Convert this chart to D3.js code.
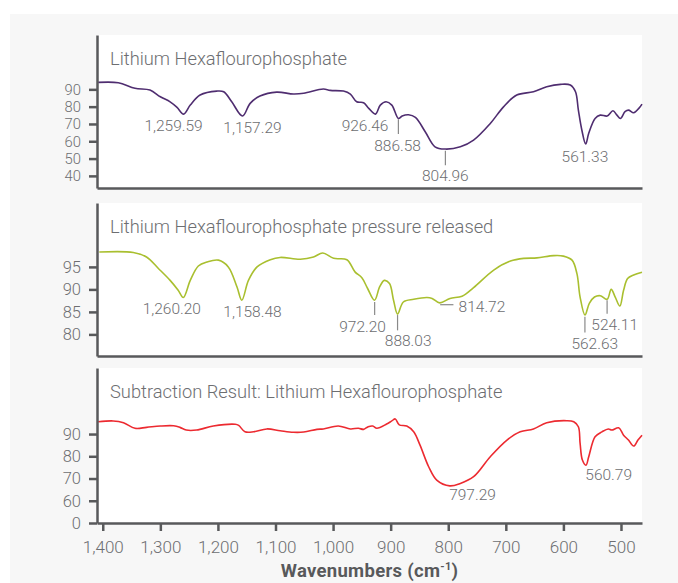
<!DOCTYPE html>
<html>
<head>
<meta charset="utf-8">
<script src="https://cdn.jsdelivr.net/npm/d3@7"></script>
<style>
	body { margin: 0; background: #fff; }
	text { font-family: Roboto, "Helvetica Neue", Arial, sans-serif; }
</style>
</head>
<body>
<svg id="chart" width="678" height="583"></svg>
<script>
// spectra, [wavenumber, value]
const seriesLiPF6 = [
	[1408, 94.0], [1373, 93.8], [1344, 90.6], [1318, 89.6], [1300, 85.7], [1283, 82.8], [1271, 79.6],
	[1259.6, 75.7], [1248, 80.9], [1231, 86.7], [1202, 89.0], [1190, 88.6], [1176, 82.8], [1157.3, 74.6],
	[1144, 81.9], [1127, 86.1], [1098, 88.4], [1069, 87.3], [1051, 87.7], [1017, 90.2], [1005, 89.4],
	[982, 89.0], [970, 87.3], [959, 82.8], [947, 82.3], [938, 79.0], [926.5, 75.7], [918, 80.9], [908, 82.8],
	[898, 80.9], [886.6, 73.2], [880, 74.6], [869, 75.3], [857, 73.8], [840, 65.5], [823, 56.8], [805, 55.5],
	[779, 56.8], [756, 60.7], [727, 70.3], [704, 79.9], [681, 86.7], [652, 88.6], [629, 91.5], [605, 92.9],
	[588, 92.5], [579, 88.6], [574, 78.0], [568, 66.5], [561.3, 58.4], [556, 64.6], [545, 73.2], [536, 75.1],
	[524, 74.6], [514, 77.6], [507, 75.1], [501, 73.2], [493, 77.1], [487, 78.0], [478, 76.5], [469, 79.0],
	[463.5, 81.5]
];

const seriesReleased = [
	[1406, 98.3], [1347, 98.2], [1324, 97.2], [1303, 94.6], [1283, 92.0], [1269, 89.8], [1260.2, 88.2],
	[1248, 92.0], [1234, 95.2], [1219, 96.1], [1199, 96.5], [1182, 95.0], [1167, 90.6], [1158.5, 87.6],
	[1147, 92.0], [1132, 95.0], [1109, 96.6], [1092, 97.1], [1057, 96.7], [1034, 97.2], [1018, 98.1],
	[999, 96.9], [976, 96.6], [962, 93.9], [950, 92.6], [940, 90.2], [928, 87.6], [919, 90.6], [911, 92.0],
	[902, 91.3], [895, 87.6], [888, 84.5], [878, 87.2], [860, 87.8], [837, 88.2], [828, 88.0], [814.7, 87.0],
	[797, 88.0], [776, 88.5], [756, 90.4], [721, 94.3], [692, 96.3], [669, 96.9], [646, 97.0], [617, 97.5],
	[600, 97.4], [585, 96.5], [576.5, 93.5], [571, 88.3], [562.6, 84.3], [555, 86.9], [546, 88.3], [536, 88.6],
	[524.1, 87.8], [517, 90.0], [510, 88.3], [502, 86.3], [495.5, 89.8], [488.5, 92.4], [478, 93.2],
	[463.5, 93.8]
];

const seriesSubtraction = [
	[1408, 95.5], [1382, 95.9], [1364, 95.1], [1344, 92.6], [1324, 93.0], [1300, 93.6], [1277, 93.7],
	[1266, 93.0], [1255, 91.8], [1237, 91.8], [1208, 93.6], [1170, 94.4], [1164, 93.9], [1153, 91.0],
	[1138, 91.0], [1115, 92.3], [1092, 91.5], [1069, 90.8], [1051, 90.9], [1028, 92.1], [1017, 92.3],
	[991, 93.6], [970, 92.3], [956, 92.6], [947, 92.1], [939, 93.3], [931, 93.6], [924, 92.6], [907, 94.5],
	[898, 95.9], [892, 96.8], [885, 94.1], [872, 93.6], [860, 91.0], [849, 85.0], [834, 75.3], [820, 69.3],
	[797.3, 66.7], [779, 67.8], [756, 70.8], [727, 79.8], [698, 87.3], [675, 91.0], [652, 92.3], [629, 95.1],
	[594, 96.0], [582, 95.5], [574, 93.3], [571, 85.8], [567, 78.3], [560.8, 76.0], [556, 79.8], [545, 88.8],
	[533, 91.0], [522, 92.3], [516, 91.8], [504, 92.8], [495.5, 89.5], [487, 87.3], [478, 84.6], [470.5, 87.3],
	[463.5, 89.5]
];

const titles = [
	"Lithium Hexaflourophosphate",
	"Lithium Hexaflourophosphate pressure released",
	"Subtraction Result: Lithium Hexaflourophosphate"
];

const xTicks = [1400, 1300, 1200, 1100, 1000, 900, 800, 700, 600, 500];

const yTicks1 = [40, 50, 60, 70, 80, 90];
const yTicks2 = [80, 85, 90, 95];
const yTicks3 = [50, 60, 70, 80, 90];
const yTickLabels3 = ["0", "60", "70", "80", "90"];

// peak labels: text, label anchor point (wn, value), optional leader line
const peaks1 = [
	{ text: "1,259.59", wn: 1277, v: 65.9 },
	{ text: "1,157.29", wn: 1140, v: 64.6 },
	{ text: "926.46", wn: 904, v: 65.9, anchor: "end" },
	{ text: "886.58", wn: 888, v: 54.5, line: [886.58, 72.7, 886.58, 64.2] },
	{ text: "804.96", wn: 805, v: 37.2, line: [804.96, 54.5, 804.96, 46.2] },
	{ text: "561.33", wn: 562.6, v: 48.2 }
];
const peaks2 = [
	{ text: "1,260.20", wn: 1280, v: 84.5 },
	{ text: "1,158.48", wn: 1140, v: 83.9 },
	{ text: "972.20", wn: 948.7, v: 80.6, line: [927.8, 87.2, 927.8, 84.3] },
	{ text: "888.03", wn: 869.6, v: 77.4, line: [888.03, 84.3, 888.03, 80.9] },
	{ text: "814.72", wn: 782, v: 85.0, anchor: "start", line: [814, 86.6, 791, 86.6] },
	{ text: "562.63", wn: 545.5, v: 76.8, line: [562.63, 83.9, 562.63, 80.4] },
	{ text: "524.11", wn: 511, v: 80.9, line: [524.11, 87.6, 524.11, 84.6] }
];
const peaks3 = [
	{ text: "797.29", wn: 798.4, v: 60.3, anchor: "start" },
	{ text: "560.79", wn: 562, v: 69.3, anchor: "start" }
];

// layout
const svg = d3.select("#chart");
const left = 97, right = 642;
const axisColor = "#58595b", labelColor = "#6d6e71";

const panels = [
	{ title: titles[0], data: seriesLiPF6, color: "#4f2d70", top: 35, bottom: 188,
		domain: [33, 121.4], ticks: yTicks1, peaks: peaks1, tickFont: 14.8 },
	{ title: titles[1], data: seriesReleased, color: "#a9bf2f", top: 203, bottom: 356,
		domain: [75.2, 109.2], ticks: yTicks2, peaks: peaks2, tickFont: 16.5 },
	{ title: titles[2], data: seriesSubtraction, color: "#ec2a30", top: 368, bottom: 523,
		domain: [50, 119.7], ticks: yTicks3, tickLabels: yTickLabels3, peaks: peaks3, tickFont: 16.5, xAxis: true }
];

svg.append("rect")
	.attr("x", 10).attr("y", 14)
	.attr("width", 668).attr("height", 569)
	.attr("fill", "#f7f7f7");

const x = d3.scaleLinear().domain([1410, 463.5]).range([left, right]);

panels.forEach(p => {
	const y = d3.scaleLinear().domain(p.domain).range([p.bottom, p.top]);
	const g = svg.append("g");

	g.append("rect")
		.attr("x", left).attr("y", p.top)
		.attr("width", right - left).attr("height", p.bottom - p.top)
		.attr("fill", "#fff");

	g.append("text")
		.attr("x", 110).attr("y", p.top + 29.5)
		.attr("fill", labelColor)
		.attr("font-size", 18.3)
		.attr("font-weight", 300)
		.text(p.title);

	// spectrum line
	g.append("path")
		.datum(p.data)
		.attr("fill", "none")
		.attr("stroke", p.color)
		.attr("stroke-width", 1.6)
		.attr("d", d3.line().x(d => x(d[0])).y(d => y(d[1])).curve(d3.curveCatmullRom.alpha(0.5)));

	// peak annotations
	p.peaks.forEach(pk => {
		if (pk.line)
			g.append("line")
				.attr("x1", x(pk.line[0])).attr("y1", y(pk.line[1]))
				.attr("x2", x(pk.line[2])).attr("y2", y(pk.line[3]))
				.attr("stroke", "#8a8a8a").attr("stroke-width", 1.2);
		g.append("text")
			.attr("x", x(pk.wn)).attr("y", y(pk.v))
			.attr("text-anchor", pk.anchor || "middle")
			.attr("fill", labelColor)
			.attr("font-size", 15.5)
			.attr("font-weight", 300)
			.text(pk.text);
	});

	// y axis
	const yAxis = d3.axisLeft(y)
		.tickValues(p.ticks)
		.tickSize(8)
		.tickSizeOuter(0)
		.tickPadding(8)
		.tickFormat((d, i) => p.tickLabels ? p.tickLabels[i] : d);

	const ya = g.append("g")
		.attr("transform", `translate(${left},0)`)
		.call(yAxis);

	// bottom line (with ticks only on the last panel)
	const xAxis = d3.axisBottom(x)
		.tickValues(p.xAxis ? xTicks : [])
		.tickSize(8)
		.tickSizeOuter(0)
		.tickPadding(10)
		.tickFormat(d3.format(","));

	const xa = g.append("g")
		.attr("transform", `translate(0,${p.bottom})`)
		.call(xAxis);

	[ya, xa].forEach(a => {
		a.select(".domain").attr("stroke", axisColor).attr("stroke-width", 2.5);
		a.selectAll(".tick line").attr("stroke", axisColor).attr("stroke-width", 2.5);
		a.selectAll(".tick text")
			.attr("fill", labelColor)
			.attr("font-size", 17)
			.attr("font-weight", 300)
			.attr("font-family", null);
	});
	ya.selectAll(".tick text").attr("font-size", p.tickFont);
});

// axis title
const xt = svg.append("text")
	.attr("x", (left + right) / 2)
	.attr("y", 577)
	.attr("text-anchor", "middle")
	.attr("fill", axisColor)
	.attr("font-size", 18.5)
	.attr("letter-spacing", 0.3)
	.attr("font-weight", 700);
xt.append("tspan").text("Wavenumbers (cm");
xt.append("tspan").attr("dy", -7).attr("font-size", 11).text("-1");
xt.append("tspan").attr("dy", 7).text(")");
</script>
</body>
</html>
